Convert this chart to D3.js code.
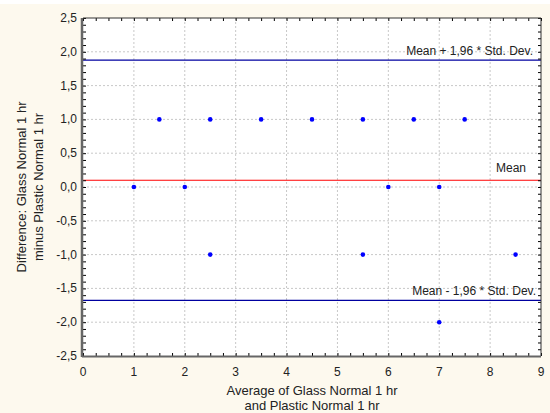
<!DOCTYPE html>
<html>
<head>
<meta charset="UTF-8">
<script src="https://d3js.org/d3.v7.min.js"></script>
<style>
  body { margin: 0; background: #fdf9ee; }
  svg { display: block; font-family: "Liberation Sans", Arial, sans-serif; }
</style>
</head>
<body>
<svg></svg>
<script>
// data
const avgValues  = [1, 1.5, 2, 2.5, 2.5, 3.5, 4.5, 5.5, 5.5, 6, 6.5, 7, 7, 7.5, 8.5];
const diffValues = [0, 1,   0, 1,  -1,   1,   1,   1,  -1,   0, 1,   0, -2, 1,  -1];
const refNames  = ["Mean + 1,96 * Std. Dev.", "Mean", "Mean - 1,96 * Std. Dev."];
const refValues = [1.878, 0.1, -1.678];
const xTicks = [0, 1, 2, 3, 4, 5, 6, 7, 8, 9];
const yTicks = [-2.5, -2, -1.5, -1, -0.5, 0, 0.5, 1, 1.5, 2, 2.5];

let width = 550, height = 413;
let m = { left: 83, right: 9, top: 18, bottom: 57 };

let svg = d3.select("svg").attr("width", width).attr("height", height);

svg.append("rect").attr("width", width).attr("height", height).attr("fill", "#fdf9ee");
svg.append("rect").attr("width", width).attr("height", 4).attr("fill", "#ffffff");

let x = d3.scaleLinear().domain([0, 9]).range([m.left, width - m.right]);
let y = d3.scaleLinear().domain([-2.5, 2.5]).range([height - m.bottom, m.top]);

let fmt = d => d3.format(".1f")(d).replace(".", ",").replace("−", "-");

svg.append("rect")
    .attr("x", x(0)).attr("y", y(2.5))
    .attr("width", x(9) - x(0)).attr("height", y(-2.5) - y(2.5))
    .attr("fill", "#fff");

// dotted grid
svg.append("g").selectAll("line").data(xTicks.slice(1, -1)).join("line")
    .attr("x1", d => x(d)).attr("x2", d => x(d))
    .attr("y1", y(2.5)).attr("y2", y(-2.5))
    .attr("stroke", "#c8c8c8").attr("stroke-dasharray", "2,2");
svg.append("g").selectAll("line").data(yTicks.slice(1, -1)).join("line")
    .attr("x1", x(0)).attr("x2", x(9))
    .attr("y1", d => y(d)).attr("y2", d => y(d))
    .attr("stroke", "#c8c8c8").attr("stroke-dasharray", "2,2");

// reference lines
let refColors = ["#0000a0", "#ff0000", "#0000a0"];
let labelRight = [8, 15, 5];
let g = svg.append("g");
refValues.forEach((v, i) => {
  g.append("line")
      .attr("x1", x(0)).attr("x2", x(9))
      .attr("y1", y(v)).attr("y2", y(v))
      .attr("stroke", refColors[i]).attr("stroke-width", 1.2);
  g.append("text")
      .attr("x", x(9) - labelRight[i]).attr("y", y(v) - (i == 1 ? 8 : 5))
      .attr("text-anchor", "end")
      .attr("font-size", "12px").attr("fill", "#222")
      .text(refNames[i]);
});

// points
svg.append("g").selectAll("circle").data(avgValues).join("circle")
    .attr("cx", d => x(d))
    .attr("cy", (d, i) => y(diffValues[i]))
    .attr("r", 2.3)
    .attr("fill", "#0000ff");

// axes with inward ticks
let minorX = d3.range(0, 9.001, 0.25);
let minorY = d3.range(-2.5, 2.501, 0.1);

svg.append("g").attr("transform", `translate(0,${y(-2.5)})`)
    .call(d3.axisTop(x).tickValues(minorX).tickSize(3).tickFormat(""))
    .call(a => a.select(".domain").remove());
svg.append("g").attr("transform", `translate(0,${y(2.5)})`)
    .call(d3.axisBottom(x).tickValues(minorX).tickSize(3).tickFormat(""))
    .call(a => a.select(".domain").remove());
svg.append("g").attr("transform", `translate(${x(0)},0)`)
    .call(d3.axisRight(y).tickValues(minorY).tickSize(3).tickFormat(""))
    .call(a => a.select(".domain").remove());
svg.append("g").attr("transform", `translate(${x(9)},0)`)
    .call(d3.axisLeft(y).tickValues(minorY).tickSize(3).tickFormat(""))
    .call(a => a.select(".domain").remove());

// frame
svg.append("line").attr("x1", x(0)).attr("x2", x(9)).attr("y1", y(2.5)).attr("y2", y(2.5))
    .attr("stroke", "#333").attr("stroke-width", 1);
svg.append("line").attr("x1", x(9)).attr("x2", x(9)).attr("y1", y(2.5)).attr("y2", y(-2.5))
    .attr("stroke", "#333").attr("stroke-width", 1);
svg.append("line").attr("x1", x(0) - 1).attr("x2", x(9)).attr("y1", y(-2.5) + 0.5).attr("y2", y(-2.5) + 0.5)
    .attr("stroke", "#666").attr("stroke-width", 2);
svg.append("line").attr("x1", x(0) - 1).attr("x2", x(0) - 1).attr("y1", y(2.5)).attr("y2", y(-2.5) + 1)
    .attr("stroke", "#666").attr("stroke-width", 2.5);

// tick labels
svg.append("g").selectAll("text").data(xTicks).join("text")
    .attr("x", d => x(d)).attr("y", y(-2.5) + 20)
    .attr("text-anchor", "middle").attr("font-size", "12px").attr("fill", "#222")
    .text(d => d);
svg.append("g").selectAll("text").data(yTicks).join("text")
    .attr("x", x(0) - 6).attr("y", d => y(d) + 4)
    .attr("text-anchor", "end").attr("font-size", "12px").attr("fill", "#222")
    .text(fmt);

// axis titles
svg.append("text").attr("x", (x(0) + x(9)) / 2).attr("y", 395)
    .attr("text-anchor", "middle").attr("font-size", "13px").attr("fill", "#222")
    .text("Average of Glass Normal 1 hr");
svg.append("text").attr("x", (x(0) + x(9)) / 2).attr("y", 410)
    .attr("text-anchor", "middle").attr("font-size", "13px").attr("fill", "#222")
    .text("and Plastic Normal 1 hr");

let cy = (y(2.5) + y(-2.5)) / 2;
svg.append("text").attr("transform", `translate(26,${cy}) rotate(-90)`)
    .attr("text-anchor", "middle").attr("font-size", "13px").attr("fill", "#222")
    .text("Difference: Glass Normal 1 hr");
svg.append("text").attr("transform", `translate(43,${cy}) rotate(-90)`)
    .attr("text-anchor", "middle").attr("font-size", "13px").attr("fill", "#222")
    .text("minus Plastic Normal 1 hr");
</script>
</body>
</html>
